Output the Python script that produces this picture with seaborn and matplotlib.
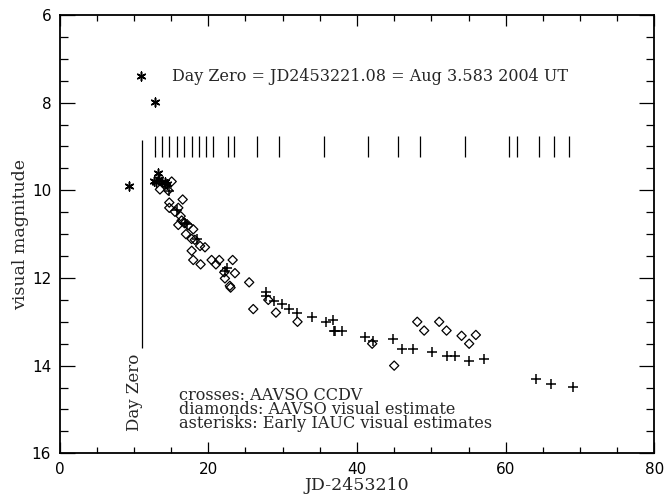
import matplotlib
matplotlib.use("Agg")
import matplotlib.pyplot as plt
from matplotlib.ticker import MultipleLocator
import seaborn as sns
import pandas as pd

# AAVSO CCD V photometry (days after JD 2453210, V magnitude)
ccdv_day = [14.76, 15.75, 16.9, 17.2, 18.52, 22.47, 22.3, 27.75, 27.75, 28.83, 29.87,
            30.89, 31.88, 33.9, 35.82, 36.8, 36.9, 37.0, 37.93, 41.06, 42.1, 44.78,
            46.08, 47.56, 50.03, 52.04, 53.16, 55.08, 57.06, 64.05, 66.06, 69.06]
ccdv_mag = [10.02, 10.45, 10.75, 10.78, 11.10, 11.77, 11.85, 12.31, 12.41, 12.52, 12.59,
            12.71, 12.79, 12.90, 13.00, 12.96, 13.20, 13.22, 13.22, 13.34, 13.43, 13.40,
            13.63, 13.61, 13.70, 13.77, 13.77, 13.90, 13.85, 14.31, 14.43, 14.48]

# AAVSO visual estimates
vis_day = [13.5, 14.3, 14.6, 15.08, 16.56, 14.76, 14.76, 15.97, 15.52, 16.29, 16.42,
           15.97, 16.8, 17.3, 17.98, 17.0, 17.77, 18.2, 18.9, 19.56, 17.77, 17.98,
           18.97, 20.45, 21.48, 21.03, 23.28, 22.15, 23.59, 22.24, 22.9, 23.0, 25.5,
           28.07, 26.05, 29.1, 32.0, 42.04, 45.0, 48.1, 49.03, 51.05, 52.04, 54.06,
           55.98, 55.08]
vis_mag = [9.98, 9.87, 10.0, 9.80, 10.21, 10.28, 10.40, 10.40, 10.49, 10.59, 10.69,
           10.79, 10.75, 10.80, 10.89, 11.00, 11.11, 11.13, 11.27, 11.30, 11.38, 11.59,
           11.69, 11.59, 11.59, 11.69, 11.59, 11.87, 11.89, 12.01, 12.18, 12.22, 12.10,
           12.50, 12.71, 12.79, 13.00, 13.50, 14.00, 13.00, 13.20, 13.00, 13.20, 13.32,
           13.30, 13.50]

# Early IAUC visual estimates
iauc_day = [9.34, 10.95, 12.84, 13.2, 12.7, 13.0, 13.4, 13.8, 14.2, 14.5]
iauc_mag = [9.90, 7.39, 7.98, 9.61, 9.78, 9.80, 9.75, 9.82, 9.80, 9.85]

# Epochs marked along the top of the light curve
epoch_day = [12.84, 13.82, 14.76, 15.75, 16.73, 17.77, 18.75, 19.73, 20.67, 22.69,
             23.49, 26.51, 29.5, 35.55, 41.5, 45.54, 48.45, 54.5, 60.46, 61.45,
             64.49, 66.5, 68.48]

day_zero = 11.08
title_text = "Day Zero = JD2453221.08 = Aug 3.583 2004 UT"
legend_lines = ["crosses: AAVSO CCDV",
                "diamonds: AAVSO visual estimate",
                "asterisks: Early IAUC visual estimates"]

sns.set_style("ticks")
plt.rcParams["font.family"] = ["DejaVu Sans"]
serif = ["DejaVu Serif"]

fig = plt.figure(figsize=(6.65, 4.96), dpi=100)
ax = fig.add_axes([0.0895, 0.0861, 0.8947, 0.8837])

ccdv = pd.DataFrame({"day": ccdv_day, "mag": ccdv_mag})
vis = pd.DataFrame({"day": vis_day, "mag": vis_mag})
iauc = pd.DataFrame({"day": iauc_day, "mag": iauc_mag})

sns.scatterplot(data=vis, x="day", y="mag", ax=ax, marker="D", s=22,
                facecolor="none", edgecolor="black", linewidth=0.9, zorder=3)
sns.scatterplot(data=ccdv, x="day", y="mag", ax=ax, marker="+", s=45,
                color="black", linewidth=1.1, zorder=3)
sns.scatterplot(data=iauc, x="day", y="mag", ax=ax, marker=(6, 2, 0), s=40,
                color="black", linewidth=1.1, zorder=3)

# epoch markers and the Day Zero line
ax.vlines(epoch_day, 8.75, 9.25, color="black", linewidth=0.9)
ax.vlines([day_zero], 8.85, 13.6, color="black", linewidth=0.9)
ax.text(day_zero + 0.1, 13.72, "Day Zero", rotation=90, ha="right", va="top",
        family=serif, fontsize=12)

ax.text(15.1, 7.4, title_text, ha="left", va="center", family=serif, fontsize=11.5)
ax.text(16.1, 15.0, "\n".join(legend_lines), ha="left", va="center",
        multialignment="left", family=serif, fontsize=11.6, linespacing=0.74)

ax.set_xlim(0, 80)
ax.set_ylim(16, 6)
ax.xaxis.set_major_locator(MultipleLocator(20))
ax.xaxis.set_minor_locator(MultipleLocator(5))
ax.yaxis.set_major_locator(MultipleLocator(2))
ax.yaxis.set_minor_locator(MultipleLocator(0.5))
ax.tick_params(axis="both", which="both", direction="in", top=True, right=True,
               colors="black", labelsize=11, width=0.9)
ax.tick_params(axis="x", which="major", length=8, pad=6)
ax.tick_params(axis="x", which="minor", length=4)
ax.tick_params(axis="y", which="major", length=11, pad=6)
ax.tick_params(axis="y", which="minor", length=6)
for sp in ax.spines.values():
    sp.set_linewidth(1.3)
    sp.set_color("black")

ax.set_xlabel("JD-2453210", family=serif, fontsize=12.5, labelpad=0)
ax.set_ylabel("visual magnitude", family=serif, fontsize=12.5, labelpad=2)

fig.savefig("out.png", dpi=100, facecolor="white")
